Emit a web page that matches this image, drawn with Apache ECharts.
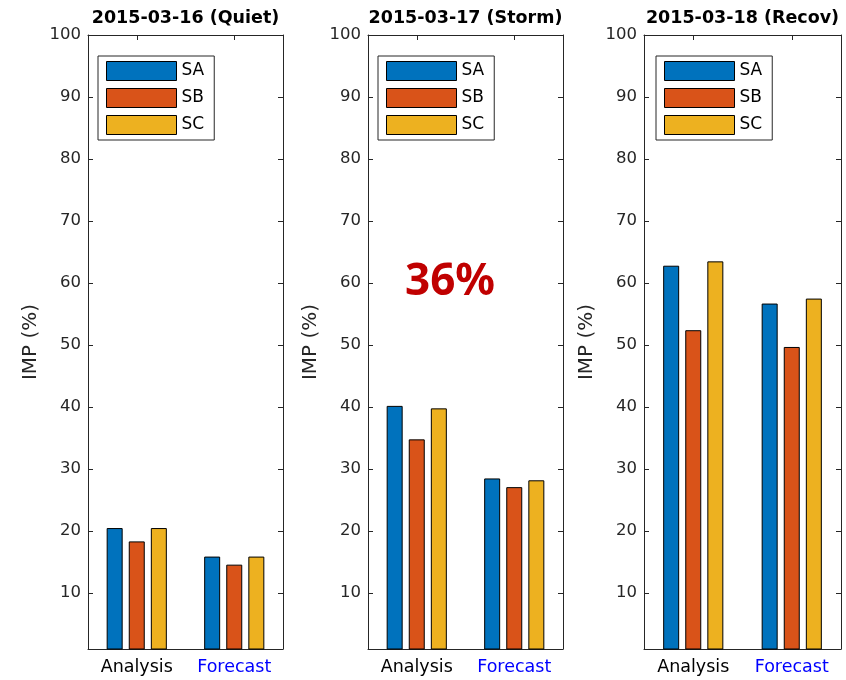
<!DOCTYPE html>
<html>
<head>
<meta charset="utf-8">
<script src="https://cdn.jsdelivr.net/npm/echarts@6/dist/echarts.min.js"></script>
<style>
html,body{margin:0;padding:0;background:#fff;}
#chart{width:846px;height:680px;}
</style>
</head>
<body>
<div id="chart"></div>
<script>
// ---- data ----
const categories = ['Analysis', 'Forecast'];
const categoryColors = ['#000000', '#0000ff'];
const panelTitles = ['2015-03-16 (Quiet)', '2015-03-17 (Storm)', '2015-03-18 (Recov)'];
const seriesNames = ['SA', 'SB', 'SC'];
const quietSA = [20.5, 15.9];
const quietSB = [18.35, 14.6];
const quietSC = [20.5, 15.9];
const stormSA = [40.2, 28.5];
const stormSB = [34.8, 27.1];
const stormSC = [39.8, 28.2];
const recovSA = [62.8, 56.7];
const recovSB = [52.4, 49.7];
const recovSC = [63.5, 57.5];
const yTickValues = [10, 20, 30, 40, 50, 60, 70, 80, 90, 100];
const yAxisName = 'IMP (%)';
const annotationText = '36%';

// ---- layout / style ----
const FONT = 'DejaVu Sans';
const AXIS_COLOR = '#262626';
const seriesColors = ['#0072BD', '#D95319', '#EDB120'];
const panelData = [
  [quietSA, quietSB, quietSC],
  [stormSA, stormSB, stormSC],
  [recovSA, recovSB, recovSC]
];
const grids = [
  {left: 88, top: 35, width: 195, height: 614},
  {left: 368, top: 35, width: 195, height: 614},
  {left: 644, top: 35, width: 197, height: 614}
];
const legendLefts = [98, 378, 656];

const catData = categories.map((c, i) => ({value: c, textStyle: {color: categoryColors[i]}}));

const xAxis = [], yAxis = [], series = [], legend = [], title = [];
grids.forEach((g, i) => {
  const tick = {show: true, inside: true, length: 5, lineStyle: {color: AXIS_COLOR, width: 1}};
  const line = {show: true, onZero: false, lineStyle: {color: AXIS_COLOR, width: 1}};
  xAxis.push({
    gridIndex: i, type: 'category', data: catData, position: 'bottom',
    axisLine: line, axisTick: Object.assign({alignWithLabel: true}, tick),
    axisLabel: {fontFamily: FONT, fontSize: 17.5, margin: 9, color: '#000'},
    splitLine: {show: false}
  });
  xAxis.push({
    gridIndex: i, type: 'category', data: categories, position: 'top',
    axisLine: line, axisTick: Object.assign({alignWithLabel: true}, tick),
    axisLabel: {show: false}, splitLine: {show: false}
  });
  yAxis.push({
    gridIndex: i, type: 'value', min: 1, max: 100, position: 'left',
    axisLine: line,
    axisTick: Object.assign({customValues: yTickValues}, tick),
    axisLabel: {customValues: yTickValues, fontFamily: FONT, fontSize: 16.5, color: AXIS_COLOR, margin: 7},
    splitLine: {show: false},
    name: yAxisName, nameLocation: 'middle', nameGap: 47, nameRotate: 90,
    nameTextStyle: {fontFamily: FONT, fontSize: 20, color: AXIS_COLOR}
  });
  yAxis.push({
    gridIndex: i, type: 'value', min: 1, max: 100, position: 'right',
    axisLine: line,
    axisTick: Object.assign({customValues: yTickValues}, tick),
    axisLabel: {show: false}, splitLine: {show: false}
  });
  panelData[i].forEach((vals, k) => {
    series.push({
      type: 'bar', name: seriesNames[k], data: vals,
      xAxisIndex: 2 * i, yAxisIndex: 2 * i,
      barWidth: 16, barGap: '38%', clip: true,
      itemStyle: {color: seriesColors[k], borderColor: '#000', borderWidth: 1}
    });
  });
  legend.push({
    data: seriesNames, orient: 'vertical', left: legendLefts[i], top: 56,
    icon: 'rect', itemWidth: 70, itemHeight: 19, itemGap: 7,
    padding: [5, 10, 5, 8], borderColor: AXIS_COLOR, borderWidth: 1, backgroundColor: '#fff',
    textStyle: {fontFamily: FONT, fontSize: 17, color: '#000'},
    itemStyle: {borderColor: '#000', borderWidth: 1},
    selectedMode: false
  });
  title.push({
    text: panelTitles[i], left: g.left + g.width / 2, top: 9, textAlign: 'center', padding: 0,
    textStyle: {fontFamily: FONT, fontSize: 17.5, fontWeight: 'bold', color: '#000'}
  });
});

const chart = echarts.init(document.getElementById('chart'), null, {renderer: 'canvas'});
chart.setOption({
  animation: false,
  backgroundColor: '#fff',
  title, grid: grids, xAxis, yAxis, series, legend,
  graphic: [{
    type: 'text', x: 450, y: 282, z: 100,
    style: {text: annotationText, fill: '#c00000', fontSize: 44, fontWeight: 'bold',
            fontFamily: 'Noto Sans', align: 'center', verticalAlign: 'middle'}
  }]
});
</script>
</body>
</html>
